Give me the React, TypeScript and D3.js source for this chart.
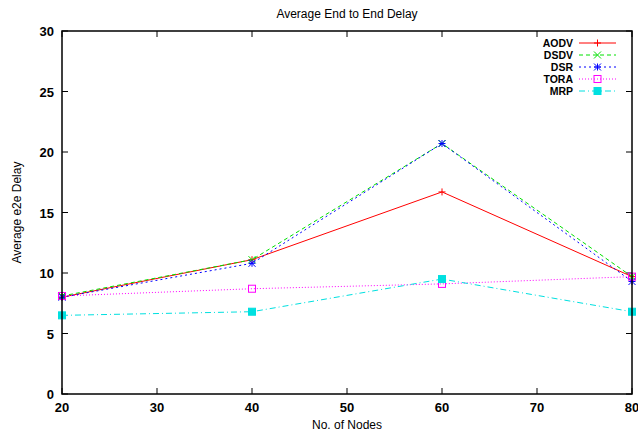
import React from "react";
import * as d3 from "d3";

const nodes = [20, 40, 60, 80];
const aodv = [8.0, 11.1, 16.7, 9.7];
const dsdv = [8.1, 11.1, 20.7, 9.7];
const dsr = [8.0, 10.8, 20.7, 9.3];
const tora = [8.1, 8.7, 9.1, 9.7];
const mrp = [6.5, 6.8, 9.5, 6.8];
const seriesNames = ["AODV", "DSDV", "DSR", "TORA", "MRP"];
const xTicks = [20, 30, 40, 50, 60, 70, 80];
const yTicks = [0, 5, 10, 15, 20, 25, 30];

const W = 638, H = 435;
const L = 62, R = 632, T = 31, B = 394;
const FONT = "'Liberation Sans', Arial, sans-serif";

type Style = { color: string; dash: string; marker: string };
const styles: Style[] = [
  { color: "#ff0000", dash: "", marker: "plus" },
  { color: "#00e000", dash: "4,3", marker: "x" },
  { color: "#0000ff", dash: "2,3", marker: "star" },
  { color: "#ff00ff", dash: "1,2", marker: "osq" },
  { color: "#00e0e0", dash: "6,3,1,3", marker: "fsq" },
];

function Marker({ x, y, kind, color }: { x: number; y: number; kind: string; color: string }) {
  const s = 3.5;
  if (kind === "plus")
    return <path d={`M${x - s},${y}H${x + s}M${x},${y - s}V${y + s}`} stroke={color} strokeWidth={1} />;
  if (kind === "x")
    return <path d={`M${x - s},${y - s}L${x + s},${y + s}M${x - s},${y + s}L${x + s},${y - s}`} stroke={color} strokeWidth={1} />;
  if (kind === "star")
    return (
      <path
        d={`M${x - s},${y}H${x + s}M${x},${y - s}V${y + s}M${x - s},${y - s}L${x + s},${y + s}M${x - s},${y + s}L${x + s},${y - s}`}
        stroke={color}
        strokeWidth={1}
      />
    );
  if (kind === "osq")
    return <rect x={x - s} y={y - s} width={2 * s} height={2 * s} fill="none" stroke={color} strokeWidth={1} />;
  return <rect x={x - s} y={y - s} width={2 * s} height={2 * s} fill={color} stroke={color} strokeWidth={1} />;
}

export default function App() {
  const x = d3.scaleLinear().domain([20, 80]).range([L, R]);
  const y = d3.scaleLinear().domain([0, 30]).range([B, T]);
  const data = [aodv, dsdv, dsr, tora, mrp];
  const line = d3
    .line<number>()
    .x((_, i) => x(nodes[i]))
    .y((d) => y(d));
  const tk = 6;
  return (
    <svg width={W} height={H} style={{ position: "absolute", left: 0, top: 0, background: "#fff" }} fontFamily={FONT}>
      <rect width={W} height={H} fill="#fff" />
      <text x={347} y={18} textAnchor="middle" fontSize={12} fill="#000">Average End to End Delay</text>
      {xTicks.map((t) => (
        <g key={"x" + t}>
          <line x1={x(t)} x2={x(t)} y1={B} y2={B - tk} stroke="#000" />
          <line x1={x(t)} x2={x(t)} y1={T} y2={T + tk} stroke="#000" />
          <text x={x(t)} y={B + 18} textAnchor="middle" fontSize={13} fontWeight="bold" fill="#000">{t}</text>
        </g>
      ))}
      {yTicks.map((t) => (
        <g key={"y" + t}>
          <line x1={L} x2={L + tk} y1={y(t)} y2={y(t)} stroke="#000" />
          <line x1={R} x2={R - tk} y1={y(t)} y2={y(t)} stroke="#000" />
          <text x={L - 8} y={y(t) + 5} textAnchor="end" fontSize={13} fontWeight="bold" fill="#000">{t}</text>
        </g>
      ))}
      <text x={347} y={429} textAnchor="middle" fontSize={12} fill="#000">No. of Nodes</text>
      <text transform={`translate(21,${(T + B) / 2}) rotate(-90)`} textAnchor="middle" fontSize={12} fill="#000">Average e2e Delay</text>
      {data.map((vals, si) => (
        <g key={"s" + si}>
          <path d={line(vals) || ""} fill="none" stroke={styles[si].color} strokeWidth={1} strokeDasharray={styles[si].dash} />
          {vals.map((v, i) => (
            <Marker key={i} x={x(nodes[i])} y={y(v)} kind={styles[si].marker} color={styles[si].color} />
          ))}
        </g>
      ))}
      {seriesNames.map((n, si) => {
        const ly = 43 + si * 12;
        return (
          <g key={"l" + n}>
            <text x={573} y={ly + 4} textAnchor="end" fontSize={10.5} fontWeight="bold" fill="#000">{n}</text>
            <line x1={579} x2={616} y1={ly} y2={ly} stroke={styles[si].color} strokeDasharray={styles[si].dash} />
            <Marker x={597.5} y={ly} kind={styles[si].marker} color={styles[si].color} />
          </g>
        );
      })}
      <rect x={L} y={T} width={R - L} height={B - T} fill="none" stroke="#000" strokeWidth={1.5} />
    </svg>
  );
}
